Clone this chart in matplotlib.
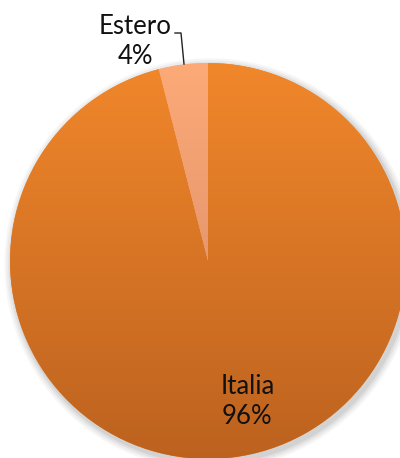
import matplotlib
matplotlib.use("Agg")
import matplotlib.pyplot as plt
import numpy as np
from matplotlib.colors import LinearSegmentedColormap
from matplotlib.patches import Circle

labels = ["Italia", "Estero"]
values = [96, 4]
pct_labels = ["96%", "4%"]

# gradient colours, top -> bottom
slice_colors = [("#F1872B", "#BC621F"), ("#FDAA78", "#D08563")]

plt.rcParams['font.family'] = ['Lato', 'DejaVu Sans']

W, H = 400, 458
cx, cy, R = 208, 261, 198  # pie centre / radius in pixels


def to_data(px, py):
    return (px - cx) / R, (cy - py) / R


fig = plt.figure(figsize=(W / 100, H / 100), dpi=100)
ax = fig.add_axes([0, 0, 1, 1])
ax.axis('off')

# soft shadow
for i, a in enumerate([0.05, 0.06, 0.08, 0.1]):
    ax.add_patch(Circle((0.012, -0.016), 1.0 + 0.01 * (4 - i), color='#5a5a5a', alpha=a, lw=0, zorder=0))

wedges, _ = ax.pie(values, startangle=90, counterclock=False, radius=1.0,
                   colors=[c[0] for c in slice_colors],
                   wedgeprops=dict(linewidth=0))

grad = np.linspace(0, 1, 256).reshape(-1, 1)
for w, (c_top, c_bot) in zip(wedges, slice_colors):
    cmap = LinearSegmentedColormap.from_list("g", [c_top, c_bot])
    im = ax.imshow(grad, cmap=cmap, extent=[-1, 1, -1, 1], origin='upper',
                   aspect='auto', zorder=2)
    im.set_clip_path(w)
ax.set_xlim(-cx / R, (W - cx) / R)
ax.set_ylim(-(H - cy) / R, cy / R)

# labels
fs = 18.5
x, y = to_data(248, 387)
ax.text(x, y, labels[0], ha='center', va='center', fontsize=fs, color='#111111', zorder=5)
x, y = to_data(247, 416)
ax.text(x, y, pct_labels[0], ha='center', va='center', fontsize=fs, color='#111111', zorder=5)

x, y = to_data(135, 27)
ax.text(x, y, labels[1], ha='center', va='center', fontsize=fs, color='#111111', zorder=5)
x, y = to_data(135, 57)
ax.text(x, y, pct_labels[1], ha='center', va='center', fontsize=fs, color='#111111', zorder=5)

lx, ly = zip(*[to_data(175, 33), to_data(181, 33), to_data(184, 64)])
ax.plot(lx, ly, color='#222222', lw=1.0, zorder=5)

fig.savefig("out.png", dpi=100)
